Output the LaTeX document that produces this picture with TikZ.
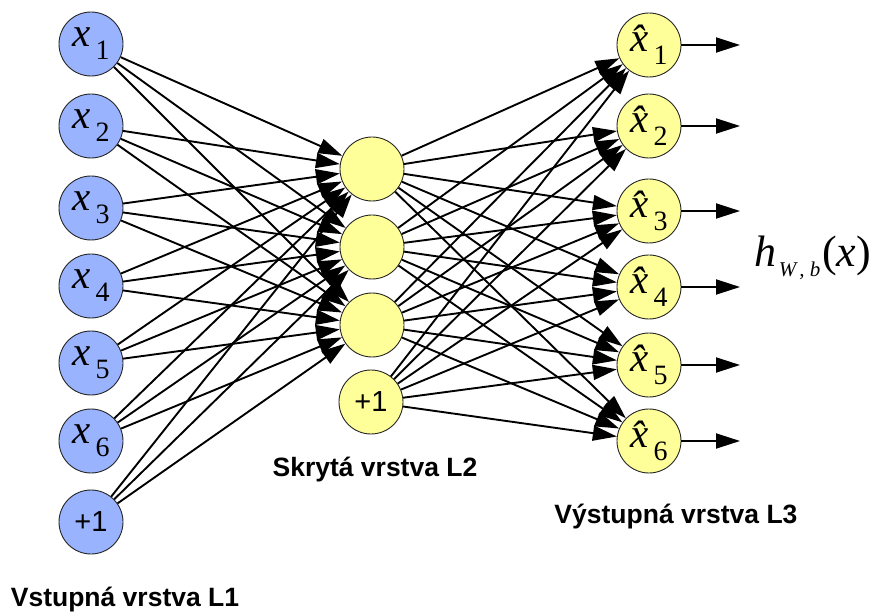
\documentclass[tikz,border=0pt]{standalone}
\usepackage{fontspec}
\setmainfont{Liberation Serif}
\setsansfont{Liberation Sans}
\usetikzlibrary{arrows.meta}
\newcommand\xlab[1]{{\fontsize{41}{41}\selectfont\itshape x}\hspace{5pt}\raisebox{-13pt}{\fontsize{28}{28}\selectfont #1}}
\newcommand\xhat[1]{{\fontsize{41}{41}\selectfont\itshape \^x}\hspace{5pt}\raisebox{-13pt}{\fontsize{28}{28}\selectfont #1}}
\begin{document}
\begin{tikzpicture}[x=1pt,y=-1pt,
  inp/.style={circle,draw=black!85,line width=0.9pt,fill={rgb,255:red,153;green,179;blue,255},minimum size=64pt,inner sep=0pt},
  hid/.style={circle,draw=black!85,line width=0.9pt,fill={rgb,255:red,255;green,255;blue,153},minimum size=64pt,inner sep=0pt},
  conn/.style={line width=1.9pt,-{Triangle[length=24pt,width=15pt]}},
  one/.style={font=\sffamily\fontsize{29}{29}\selectfont},
  lbl/.style={font=\sffamily\bfseries\fontsize{26.5}{26.5}\selectfont,inner sep=0pt}
]
\useasboundingbox (0,0) rectangle (876,612);
% input layer
\node[inp] (i1) at (91,44)  {\xlab{1}};
\node[inp] (i2) at (91,126) {\xlab{2}};
\node[inp] (i3) at (91,208) {\xlab{3}};
\node[inp] (i4) at (91,286) {\xlab{4}};
\node[inp] (i5) at (91,363) {\xlab{5}};
\node[inp] (i6) at (91,441) {\xlab{6}};
\node[inp,one] (i7) at (91,522) {+1};
% hidden layer
\node[hid] (h1) at (372,169) {};
\node[hid] (h2) at (372,247) {};
\node[hid] (h3) at (372,325) {};
\node[hid,one] (h4) at (371,402) {+1};
% output layer
\node[hid] (o1) at (649,45)  {\xhat{1}};
\node[hid] (o2) at (649,126) {\xhat{2}};
\node[hid] (o3) at (649,211) {\xhat{3}};
\node[hid] (o4) at (649,287) {\xhat{4}};
\node[hid] (o5) at (649,365) {\xhat{5}};
\node[hid] (o6) at (649,441) {\xhat{6}};
% connections
\foreach \i in {1,...,7}{
  \foreach \h in {1,2,3}{
    \draw[conn] (i\i) -- (h\h);
  }
}
\foreach \h in {1,...,4}{
  \foreach \o in {1,...,6}{
    \draw[conn] (h\h) -- (o\o);
  }
}
\foreach \o/\y in {1/45,2/126,3/211,4/287,5/365,6/441}{
  \coordinate (e\o) at (740,\y);
  \draw[conn] (o\o) -- (e\o);
}
% labels
\node (hwb) at (813,258) {\fontsize{44}{44}\selectfont\itshape h\hspace{2pt}\raisebox{-10pt}{\fontsize{21}{21}\selectfont W\hspace{3pt}, b}\hspace{2pt}\upshape(\itshape x\upshape)};
\node[lbl] (l2) at (375,470) {Skrytá vrstva L2};
\node[lbl] (l3) at (676,517) {Výstupná vrstva L3};
\node[lbl] (l1) at (125,600) {Vstupná vrstva L1};
\end{tikzpicture}
\end{document}
